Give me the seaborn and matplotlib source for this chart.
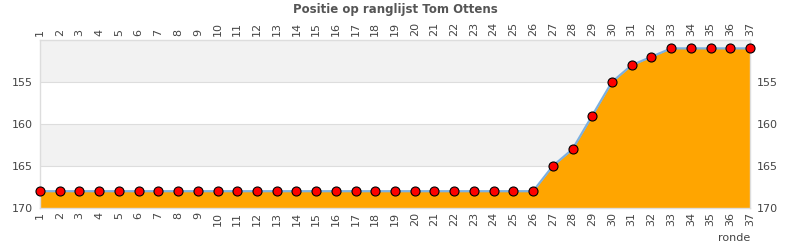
import matplotlib
matplotlib.use("Agg")
import matplotlib.pyplot as plt
import seaborn as sns
import pandas as pd

rondes = list(range(1, 38))
posities = [168] * 26 + [165, 163, 159, 155, 153, 152, 151, 151, 151, 151, 151]
y_ticks = [155, 160, 165, 170]
title = "Positie op ranglijst Tom Ottens"
x_label = "ronde"

df = pd.DataFrame({"ronde": rondes, "positie": posities})

sns.set_style("white")
plt.rcParams['font.family'] = ['DejaVu Sans']

fig = plt.figure(figsize=(7.9, 2.5), dpi=100)
ax = fig.add_axes([40/790, 1-208/250, 710/790, 168/250])

# background bands
for lo, hi in [(150, 155), (160, 165)]:
    ax.axhspan(lo, hi, color="#f2f2f2", zorder=0, lw=0)
for y in [155, 160, 165]:
    ax.axhline(y, color="#dddddd", lw=0.8, zorder=0.5)

ax.fill_between(df["ronde"], df["positie"], 170, color="#FFA500", zorder=1, lw=0)
sns.lineplot(data=df, x="ronde", y="positie", ax=ax, color="#7cb0e0", lw=1.6,
             marker="o", markersize=6.5, markerfacecolor="#ff0000",
             markeredgecolor="black", markeredgewidth=0.8, zorder=3, clip_on=False)

ax.set_xlim(1, 37)
ax.set_ylim(170, 150)
ax.set_yticks(y_ticks)
ax.set_xticks(rondes)
ax.set_xticklabels([str(r) for r in rondes], rotation=90)
ax.tick_params(axis="x", labelsize=8, labelcolor="#444444", length=0,
               labeltop=True, labelbottom=True, pad=3)
ax.tick_params(axis="y", labelsize=8, labelcolor="#444444", length=0,
               labelleft=True, labelright=True, pad=5)
ax.set_xlabel("")
ax.set_ylabel("")
for s in ax.spines.values():
    s.set_color("#dddddd")
    s.set_linewidth(1)

fig.text(395/790, 1-9/250, title, ha="center", va="center", fontsize=8.5,
         fontweight="bold", color="#555555")
fig.text(750/790, 1-238/250, x_label, ha="right", va="center", fontsize=8,
         color="#444444")

fig.savefig("out.png", dpi=100)
